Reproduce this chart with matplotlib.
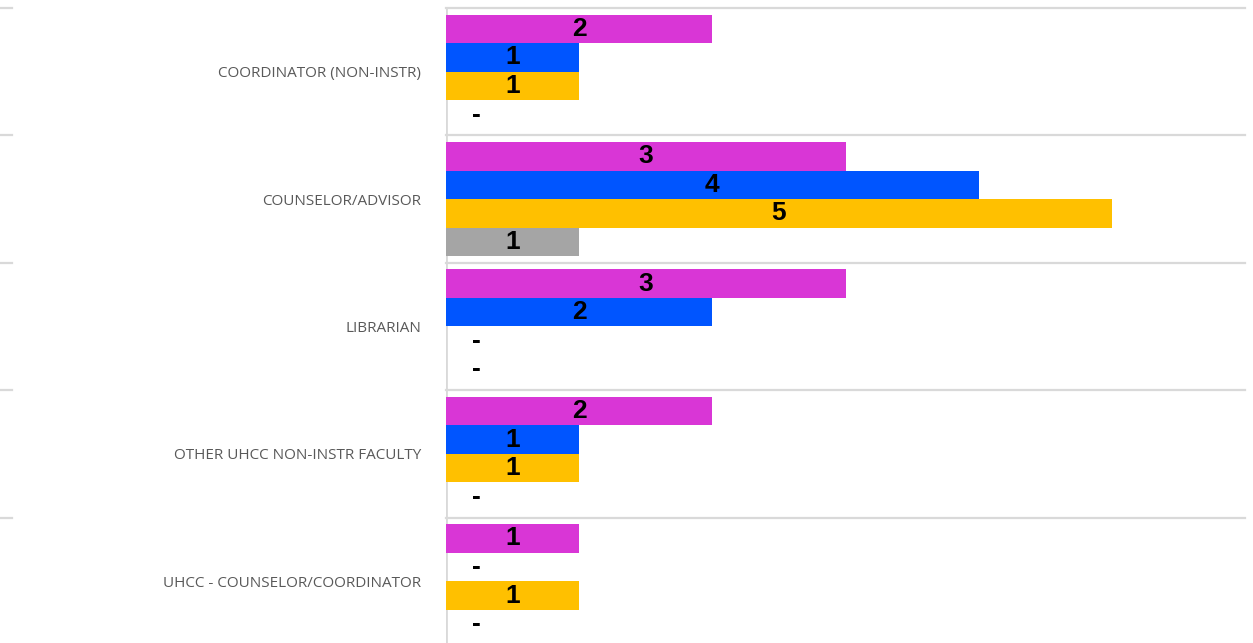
import numpy as np
import matplotlib
matplotlib.use("Agg")
import matplotlib.pyplot as plt
from matplotlib.transforms import blended_transform_factory

categories = ["COORDINATOR (NON-INSTR)", "COUNSELOR/ADVISOR", "LIBRARIAN",
              "OTHER UHCC NON-INSTR FACULTY", "UHCC - COUNSELOR/COORDINATOR"]
series_names = ["Series 1", "Series 2", "Series 3", "Series 4"]
series1 = [2, 3, 3, 2, 1]
series2 = [1, 4, 2, 1, 0]
series3 = [1, 5, 0, 1, 1]
series4 = [0, 1, 0, 0, 0]
colors = ["#D936D6", "#0055FF", "#FFC000", "#A5A5A5"]

all_series = [series1, series2, series3, series4]

fig = plt.figure(figsize=(12.53, 6.43), dpi=100)
ax = fig.add_axes([446 / 1253, -2 / 643, 799 / 1253, 637 / 643])

y = np.arange(len(categories))
h = 0.224
grid_col = "#D9D9D9"

for j, vals in enumerate(all_series):
    pos = y + (j - 1.5) * h
    ax.barh(pos, vals, height=h, color=colors[j], label=series_names[j], zorder=2)
    for p, v in zip(pos, vals):
        if v == 0:
            ax.text(0.23, p, "-", ha="center", va="center", fontsize=19,
                    fontweight="bold", family="Liberation Sans", zorder=3)
        else:
            ax.text(v / 2, p, str(v), ha="center", va="center", fontsize=19,
                    fontweight="bold", family="Liberation Sans", zorder=3)

ax.set_xlim(0, 6)
ax.set_ylim(len(categories) - 0.5, -0.5)

# category separators
for b in np.arange(-0.5, len(categories), 1.0):
    ax.axhline(b, color=grid_col, lw=1.6, zorder=1, clip_on=False)
trans = blended_transform_factory(fig.transFigure, ax.transData)
for b in np.arange(-0.5, len(categories), 1.0):
    ax.plot([0, 12 / 1253], [b, b], color=grid_col, lw=1.6, transform=trans, clip_on=False)
ax.axvline(0, color=grid_col, lw=2, zorder=1)

for s in ax.spines.values():
    s.set_visible(False)
ax.set_xticks([])
ax.set_yticks(y)
ax.set_yticklabels(categories, family="Open Sans", fontsize=11, color="#595959")
ax.tick_params(axis="y", length=0, pad=18)

fig.savefig("out.png", dpi=100)
